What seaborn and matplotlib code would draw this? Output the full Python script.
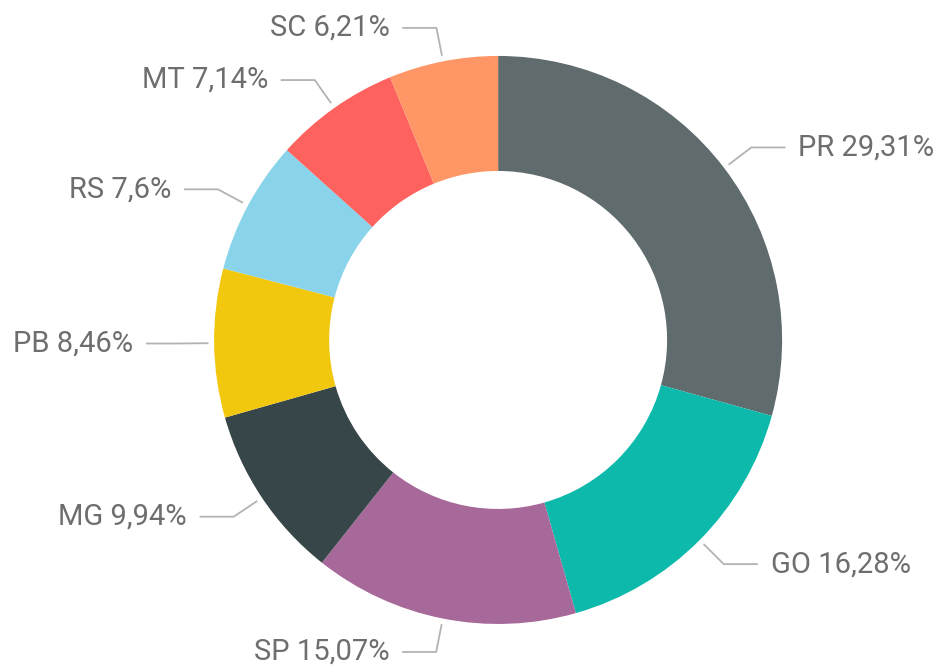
import numpy as np
import matplotlib
matplotlib.use("Agg")
import matplotlib.pyplot as plt
import seaborn as sns

# dados do gráfico (sentido horário a partir do topo)
estados = ["PR", "GO", "SP", "MG", "PB", "RS", "MT", "SC"]
percentuais = [29.31, 16.28, 15.07, 9.94, 8.46, 7.6, 7.14, 6.21]
rotulos = ["29,31%", "16,28%", "15,07%", "9,94%", "8,46%", "7,6%", "7,14%", "6,21%"]
cores = ["#5F6B6D", "#0DB9AB", "#A66999", "#374649", "#F2C80F", "#8AD4EB", "#FD625E", "#FE9666"]

sns.set_theme(style="white")
plt.rcParams["font.family"] = ["Roboto", "DejaVu Sans"]

fig = plt.figure(figsize=(9.42, 6.66), dpi=100)
ax = fig.add_axes([0, 0, 1, 1])

wedges, _ = ax.pie(percentuais, colors=sns.color_palette(cores), startangle=90,
                   counterclock=False, radius=1.0,
                   wedgeprops=dict(width=0.405, linewidth=0))

# linhas de chamada + rótulos
cor_linha = "#B3B3B3"
cor_texto = "#6E6E6E"
for w, est, rot in zip(wedges, estados, rotulos):
    ang = np.deg2rad((w.theta1 + w.theta2) / 2)
    c, s = np.cos(ang), np.sin(ang)
    x0, y0 = 1.02 * c, 1.02 * s
    x1, y1 = 1.12 * c, 1.12 * s
    lado = 1 if c >= 0 else -1
    x2 = x1 + lado * 0.12
    ax.plot([x0, x1, x2], [y0, y1, y1], color=cor_linha, lw=1.3,
            solid_capstyle="butt", clip_on=False)
    ax.text(x2 + lado * 0.045, y1, f"{est} {rot}", ha="left" if lado > 0 else "right",
            va="center", fontsize=21, color=cor_texto)

ax.set_xlim(-1.754, 1.563)
ax.set_ylim(-1.148, 1.197)
ax.set_aspect("auto")
ax.axis("off")

fig.savefig("out.png", dpi=100)
